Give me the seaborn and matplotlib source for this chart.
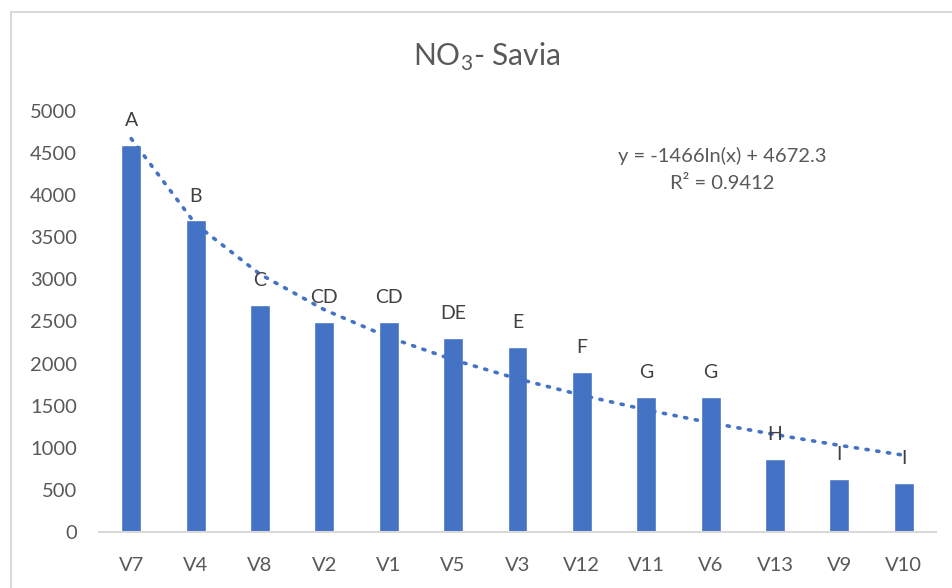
import matplotlib
matplotlib.use("Agg")
import matplotlib.pyplot as plt
from matplotlib.patches import Rectangle
import numpy as np
import pandas as pd
import seaborn as sns

# Nitrate concentration in sap by variety
varieties = ["V7", "V4", "V8", "V2", "V1", "V5", "V3", "V12", "V11", "V6", "V13", "V9", "V10"]
no3_values = [4600, 3700, 2700, 2500, 2500, 2300, 2200, 1900, 1600, 1600, 870, 630, 580]
groups = ["A", "B", "C", "CD", "CD", "DE", "E", "F", "G", "G", "H", "I", "I"]

# Logarithmic trend line coefficients: y = a*ln(x) + b
trend_a = -1466
trend_b = 4672.3
trend_r2 = 0.9412

sns.set_theme(style="white")
plt.rcParams["font.family"] = ["Lato", "DejaVu Sans"]
plt.rcParams["mathtext.fontset"] = "custom"
plt.rcParams["mathtext.rm"] = "Lato"

text_color = "#595959"
bar_color = "#4472C4"

df = pd.DataFrame({"variety": varieties, "no3": no3_values, "group": groups})

fig = plt.figure(figsize=(9.52, 5.88), dpi=100)
ax = fig.add_axes([99 / 952, 1 - 532 / 588, (936 - 99) / 952, (532 - 111) / 588])

sns.barplot(data=df, x="variety", y="no3", color=bar_color, width=0.31,
            saturation=1, ax=ax, zorder=2)

# Trend line across category positions 1..n
xs = np.arange(1, len(varieties) + 1)
trend = trend_a * np.log(xs) + trend_b
ax.plot(xs - 1, trend, linestyle=(0, (0.6, 2.4)), color=bar_color, linewidth=2.6,
        dash_capstyle="round", zorder=3)

# Group letters above bars
for i, (v, g) in enumerate(zip(no3_values, groups)):
    ax.text(i, v + 290, g, ha="center", va="center", fontsize=14, color="#404040", zorder=4)

ax.set_ylim(0, 5000)
ax.set_xlim(-0.5, len(varieties) - 0.5)
ax.set_yticks(np.arange(0, 5001, 500))
ax.set_xlabel("")
ax.set_ylabel("")
ax.tick_params(axis="both", length=0, labelsize=14.5, labelcolor=text_color)
ax.tick_params(axis="y", pad=16)
ax.tick_params(axis="x", pad=18)

for side in ["top", "right", "left"]:
    ax.spines[side].set_visible(False)
ax.spines["bottom"].set_color("#D9D9D9")
ax.spines["bottom"].set_linewidth(1.5)

fig.text(487 / 952, 1 - 57 / 588, r"NO$_{\mathregular{3}}$- Savia", ha="center", va="center",
         fontsize=21.5, color=text_color)

fig.text(722 / 952, 1 - 156 / 588, f"y = {trend_a}ln(x) + {trend_b}", ha="center", va="center",
         fontsize=14.5, color=text_color)
fig.text(722 / 952, 1 - 183 / 588, f"R² = {trend_r2}", ha="center", va="center",
         fontsize=14.5, color=text_color)

# Chart frame
fig.patches.append(Rectangle((11 / 952, -0.05), 1.2, 1 - 12 / 588 + 0.05, transform=fig.transFigure,
                             fill=False, edgecolor="#D9D9D9", linewidth=1.5))

fig.savefig("out.png", dpi=100)
